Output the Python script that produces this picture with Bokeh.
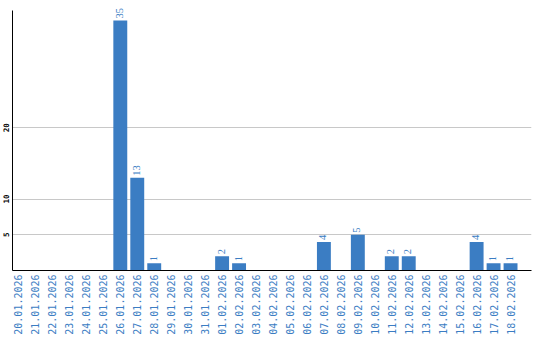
import math
from bokeh.plotting import figure
from bokeh.models import Range1d, FixedTicker, ColumnDataSource, LabelSet
from bokeh.embed import file_html
from bokeh.resources import INLINE

dates = ["20.01.2026", "21.01.2026", "22.01.2026", "23.01.2026", "24.01.2026",
         "25.01.2026", "26.01.2026", "27.01.2026", "28.01.2026", "29.01.2026",
         "30.01.2026", "31.01.2026", "01.02.2026", "02.02.2026", "03.02.2026",
         "04.02.2026", "05.02.2026", "06.02.2026", "07.02.2026", "08.02.2026",
         "09.02.2026", "10.02.2026", "11.02.2026", "12.02.2026", "13.02.2026",
         "14.02.2026", "15.02.2026", "16.02.2026", "17.02.2026", "18.02.2026"]
counts = [0, 0, 0, 0, 0, 0, 35, 13, 1, 0, 0, 0, 2, 1, 0, 0, 0, 0, 4, 0,
          5, 0, 2, 2, 0, 0, 0, 4, 1, 1]
y_ticks = [5, 10, 20]

BLUE = "#3b7dc3"

xs = list(range(len(dates)))
src = ColumnDataSource(dict(x=xs, y=counts))
lab = ColumnDataSource(dict(
    x=[x for x, c in zip(xs, counts) if c > 0],
    y=[c for c in counts if c > 0],
    t=[str(c) for c in counts if c > 0],
))

p = figure(width=540, height=340, output_backend="svg", toolbar_location=None,
           x_range=Range1d(-0.353, 30.235), y_range=Range1d(0, 37.24),
           min_border_left=11, min_border_right=9, min_border_top=4,
           min_border_bottom=70)
p.outline_line_color = None
p.background_fill_color = "white"
p.border_fill_color = "white"

p.vbar(x="x", top="y", width=0.82, bottom=0, source=src,
       fill_color=BLUE, line_color=None)

labels = LabelSet(x="x", y="y", text="t", source=lab, angle=math.pi / 2,
                  text_align="left", text_baseline="middle", y_offset=2,
                  x_offset=-1,
                  text_font="DejaVu Sans Mono", text_font_size="10.5px",
                  text_color=BLUE)
p.add_layout(labels)

p.xaxis.ticker = FixedTicker(ticks=xs)
p.xaxis.major_label_overrides = {i: d for i, d in enumerate(dates)}
p.xaxis.major_label_orientation = math.pi / 2
p.xaxis.major_label_text_color = BLUE
p.xaxis.major_label_text_font = "DejaVu Sans Mono"
p.xaxis.major_label_text_font_size = "10px"
p.xaxis.major_label_standoff = 4
p.xaxis.major_tick_out = 0
p.xaxis.major_tick_in = 0
p.xaxis.minor_tick_out = 0
p.xaxis.minor_tick_in = 0
p.xaxis.axis_line_color = "black"

p.yaxis.ticker = FixedTicker(ticks=y_ticks)
p.yaxis.bounds = (0, 36.4)
p.yaxis.major_label_orientation = "parallel"
p.yaxis.major_label_text_color = "black"
p.yaxis.major_label_text_font = "DejaVu Sans Mono"
p.yaxis.major_label_text_font_size = "7.5px"
p.yaxis.major_label_text_font_style = "bold"
p.yaxis.major_label_standoff = 3
p.yaxis.major_tick_out = 0
p.yaxis.major_tick_in = 0
p.yaxis.minor_tick_out = 0
p.yaxis.minor_tick_in = 0
p.yaxis.axis_line_color = "black"

p.xgrid.grid_line_color = None
p.ygrid.grid_line_color = "#c8c8c8"
p.ygrid.ticker = FixedTicker(ticks=y_ticks)

open("out.html", "w").write(file_html(p, INLINE))
